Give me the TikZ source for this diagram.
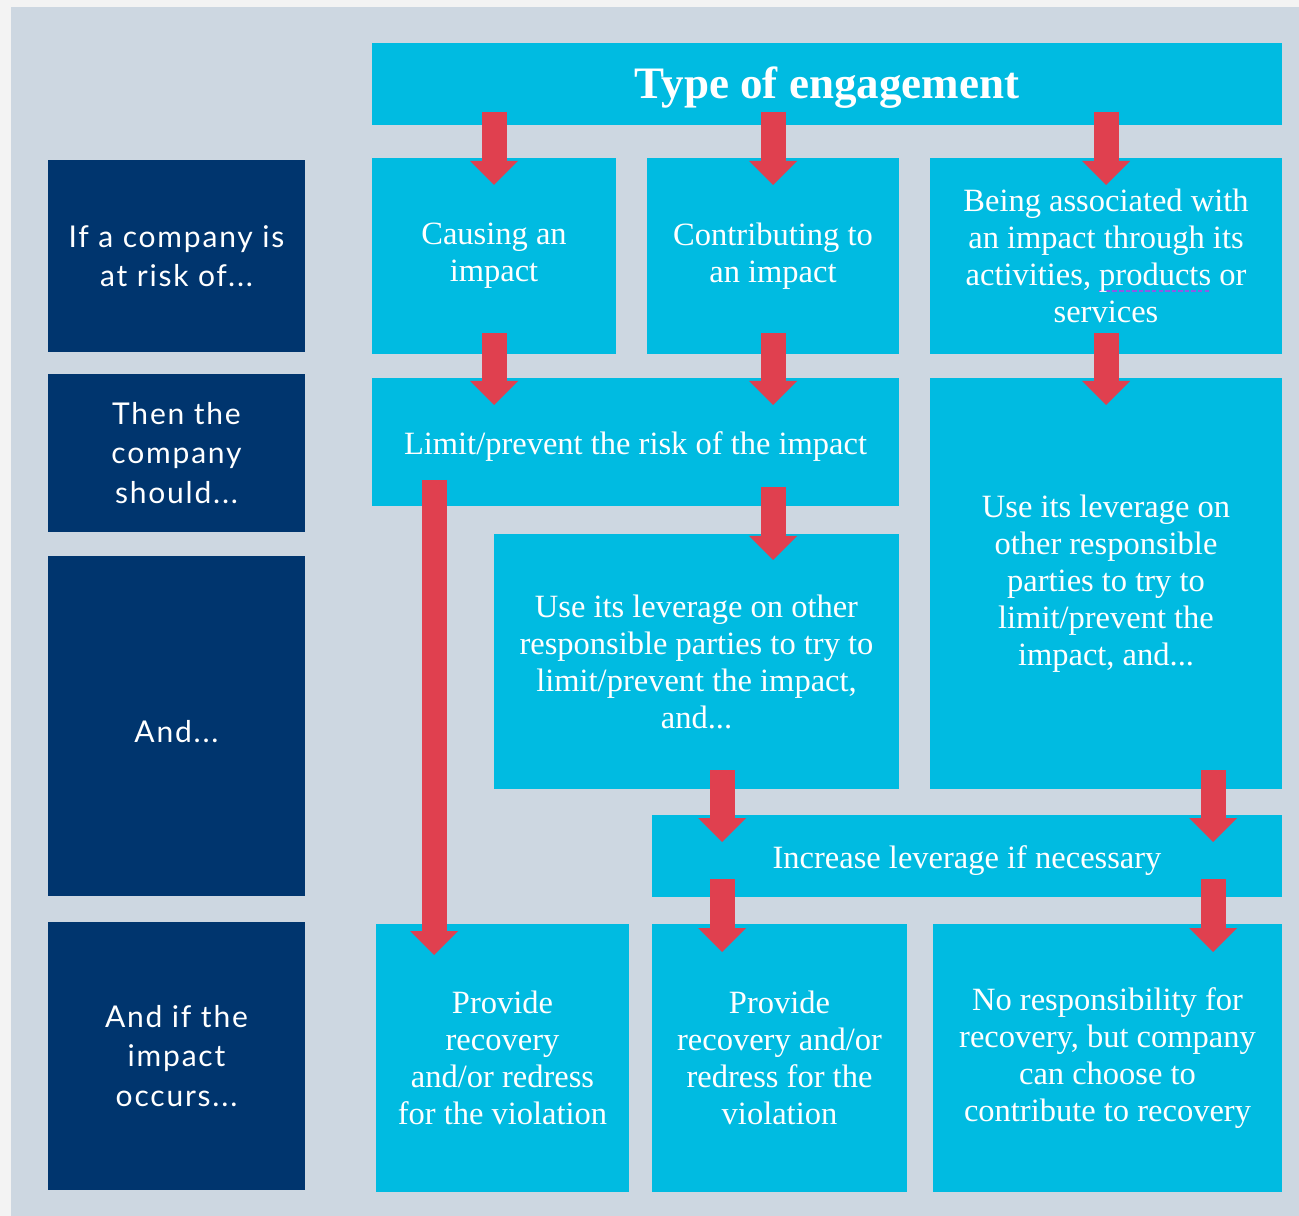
\documentclass[tikz,border=0pt]{standalone}
\usepackage{fontspec}
\setmainfont{Liberation Serif}
\newfontfamily\sidefont[LetterSpace=6]{Lato}
\usetikzlibrary{arrows.meta,positioning}

\definecolor{pagegrey}{HTML}{F3F3F3}
\definecolor{panelgrey}{HTML}{CDD7E1}
\definecolor{navy}{HTML}{00356E}
\definecolor{skyblue}{HTML}{00BBE1}
\definecolor{arrowred}{HTML}{E0404F}
\definecolor{typo}{HTML}{8A5CE6}

% spell-check style dashed underline
\newcommand\typoline[1]{\setbox0\hbox{#1}%
  \rlap{\color{typo}\hbox to\wd0{\xleaders\hbox{\rule[-2.6pt]{1.8pt}{0.8pt}\hskip0.8pt}\hfill}}%
  \box0\relax}

\begin{document}
\begin{tikzpicture}[
  x=1pt, y=1pt,
  box/.style={fill=#1, text=white, align=center, inner sep=2pt, outer sep=0pt},
  cell/.style={box=skyblue, font=\fontsize{13}{14.8}\selectfont,
               execute at begin node={\rule{0pt}{12.8pt}}},
  side/.style={box=navy, font=\sidefont\fontsize{12}{15.8}\selectfont,
               minimum width=102.8pt, execute at begin node={\rule{0pt}{13pt}}},
  arrow/.style={draw=arrowred, line width=10pt,
                -{Triangle[width=19.2pt, length=9.6pt, line width=0pt]}},
  node distance=12.4pt
]
% page and panel
\fill[pagegrey] (0,0) rectangle (519.6,-486.4);
\fill[panelgrey] (4.4,-2.8) rectangle (519.6,-486.4);

% engagement columns
\node[cell, anchor=north west, minimum width=364pt, minimum height=32.8pt,
      font=\fontsize{18}{20}\selectfont\bfseries] (hdr) at (148.8,-17.2)
  {\rule{0pt}{15.6pt}Type of engagement};
\node[cell, minimum width=97.6pt, minimum height=78.4pt,
      below right=13.2pt and 0pt of hdr.south west] (cause) {Causing an\\impact};
\node[cell, minimum width=100.8pt, minimum height=78.4pt, right=of cause] (contrib)
  {Contributing to\\an impact};
\node[cell, minimum width=140.8pt, minimum height=78.4pt, right=of contrib] (assoc)
  {Being associated with\\an impact through its\\activities, \typoline{products} or\\services};

\node[cell, minimum width=210.8pt, minimum height=51.2pt,
      below right=9.6pt and 0pt of cause.south west] (limit) {Limit/prevent the risk of the impact};
\node[cell, minimum width=140.8pt, minimum height=164.4pt,
      below right=9.6pt and 0pt of assoc.south west] (lever)
  {Use its leverage on\\other responsible\\parties to try to\\limit/prevent\ the\\impact, and...};
\node[cell, minimum width=162pt, minimum height=102pt,
      below left=11.2pt and 0pt of limit.south east] (midlever)
  {Use its leverage on other\\responsible parties to try to\\limit/prevent\ the impact,\\and...};
\node[cell, minimum width=252pt, minimum height=32.8pt,
      below left=10.4pt and 0pt of lever.south east] (incr) {Increase leverage if necessary};

\node[cell, minimum width=102pt, minimum height=107.2pt,
      below right=10.8pt and 0pt of incr.south west] (redress)
  {Provide\\recovery and/or\\redress for the\\violation};
\node[cell, minimum width=101.2pt, minimum height=107.2pt, left=9.2pt of redress] (redressown)
  {Provide\\recovery\\and/or redress\\for the violation};
\node[cell, minimum width=139.6pt, minimum height=107.2pt,
      below left=10.8pt and 0pt of incr.south east] (norecov)
  {No responsibility for\\recovery, but company\\can choose to\\contribute to recovery};

% row labels
\node[side, minimum height=76.8pt, left=26.8pt of cause] (risk) {If a company is\\at risk of...};
\node[side, minimum height=63.2pt, below=8.8pt of risk] (should) {Then the\\company\\should...};
\node[side, minimum height=136pt, below=9.6pt of should] (andthen) {And...};
\node[side, minimum height=107.2pt, below=10.4pt of andthen] (occurs) {And if the\\impact\\occurs...};

% arrow columns
\coordinate (drop) at ([xshift=24.8pt]limit.south west);
\coordinate (lcol) at ([xshift=28pt]incr.west);
\coordinate (rcol) at ([xshift=-27.6pt]incr.east);

\draw[arrow] ([yshift=5.2pt]hdr.south -| cause) -- ([yshift=-10.8pt]cause.north);
\draw[arrow] ([yshift=5.2pt]hdr.south -| contrib) -- ([yshift=-10.8pt]contrib.north);
\draw[arrow] ([yshift=5.2pt]hdr.south -| assoc) -- ([yshift=-10.8pt]assoc.north);

\draw[arrow] ([yshift=8.4pt]cause.south) -- ([yshift=-10.8pt]limit.north -| cause);
\draw[arrow] ([yshift=8.4pt]contrib.south) -- ([yshift=-10.8pt]limit.north -| contrib);
\draw[arrow] ([yshift=8.4pt]assoc.south) -- ([yshift=-10.8pt]lever.north);

\draw[arrow] ([yshift=7.6pt]limit.south -| contrib) -- ([yshift=-10.4pt]midlever.north -| contrib);
\draw[arrow] ([yshift=10.4pt]drop) -- ([yshift=-12.4pt]redressown.north -| drop);

\draw[arrow] ([yshift=7.6pt]midlever.south -| lcol) -- ([yshift=-10.8pt]incr.north -| lcol);
\draw[arrow] ([yshift=7.6pt]lever.south -| rcol) -- ([yshift=-10.8pt]incr.north -| rcol);
\draw[arrow] ([yshift=7.2pt]incr.south -| lcol) -- ([yshift=-11.2pt]redress.north -| lcol);
\draw[arrow] ([yshift=7.2pt]incr.south -| rcol) -- ([yshift=-11.2pt]norecov.north -| rcol);
\end{tikzpicture}
\end{document}
